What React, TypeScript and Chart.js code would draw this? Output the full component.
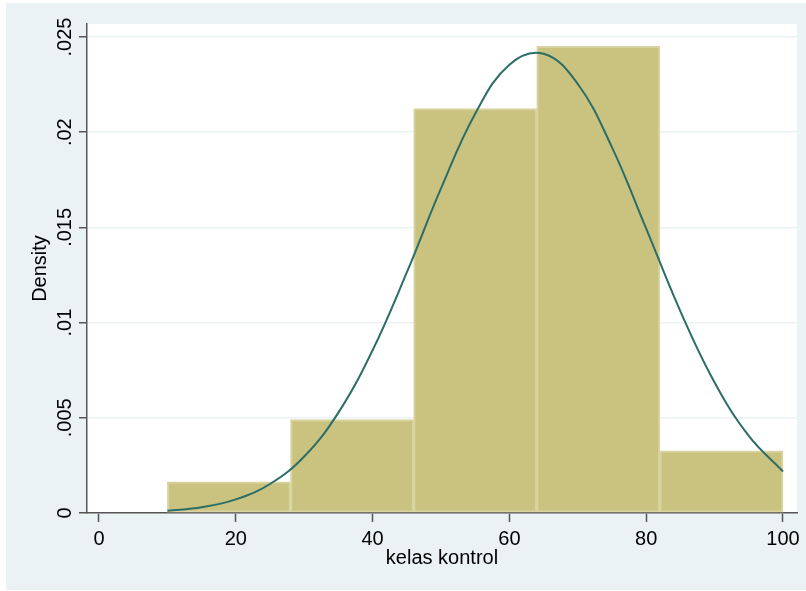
import React, { useEffect, useRef } from "react";
import { Chart, registerables } from "chart.js";

Chart.register(...registerables);

// Histogram bins (kelas kontrol), width 18
const binCenters = [19, 37, 55, 73, 91];
const densities = [0.001634, 0.0049, 0.02124, 0.02451, 0.00327];

// Normal density curve
const curveX = [10, 15, 20, 25, 30, 35, 40, 45, 50, 55, 60, 65, 70, 75, 80, 85, 90, 95, 100];
const curveY = [
  0.000119, 0.000305, 0.000713, 0.001523, 0.002967, 0.005274, 0.008548, 0.012637,
  0.017045, 0.020974, 0.023547, 0.024116, 0.022531, 0.019204, 0.014934, 0.010594,
  0.006855, 0.004045, 0.002179,
];

const xTicks = [0, 20, 40, 60, 80, 100];
const xTickLabels = ["0", "20", "40", "60", "80", "100"];
const yTicks = [0, 0.005, 0.01, 0.015, 0.02, 0.025];
const yTickLabels = ["0", ".005", ".01", ".015", ".02", ".025"];

const xTitle = "kelas kontrol";
const yTitle = "Density";

const FONT = '20px "Liberation Sans", Arial, sans-serif';

export default function App() {
  const ref = useRef<HTMLCanvasElement | null>(null);

  useEffect(() => {
    document.body.style.margin = "0";
    const canvas = ref.current;
    if (!canvas) return;

    const bgPlugin = {
      id: "stataBg",
      beforeDraw(chart: any) {
        const { ctx, chartArea } = chart;
        ctx.save();
        ctx.fillStyle = "#ffffff";
        ctx.fillRect(0, 0, chart.width, chart.height);
        ctx.fillStyle = "#eaf2f3";
        ctx.fillRect(6, 3, chart.width - 6, 587);
        ctx.fillStyle = "#ffffff";
        ctx.fillRect(
          chartArea.left,
          chartArea.top,
          chartArea.right - chartArea.left,
          chartArea.bottom - chartArea.top
        );
        ctx.restore();
      },
      afterDraw(chart: any) {
        const { ctx, scales } = chart;
        const xs = scales.x;
        const ys = scales.y;
        ctx.save();
        ctx.fillStyle = "#000000";
        ctx.font = FONT;
        ctx.textBaseline = "alphabetic";
        ctx.textAlign = "center";
        yTicks.forEach((v, i) => {
          const py = ys.getPixelForValue(v);
          ctx.save();
          ctx.translate(70.5, py);
          ctx.rotate(-Math.PI / 2);
          ctx.fillText(yTickLabels[i], 0, 0);
          ctx.restore();
        });
        xTicks.forEach((v, i) => {
          const px = xs.getPixelForValue(v);
          ctx.fillText(xTickLabels[i], px, 545);
        });
        ctx.fillText(xTitle, (chart.chartArea.left + chart.chartArea.right) / 2, 564);
        ctx.save();
        ctx.translate(46, (chart.chartArea.top + chart.chartArea.bottom) / 2);
        ctx.rotate(-Math.PI / 2);
        ctx.fillText(yTitle, 0, 0);
        ctx.restore();
        ctx.restore();
      },
    };

    const chart = new Chart(canvas, {
      type: "bar",
      data: {
        datasets: [
          {
            type: "line",
            data: curveX.map((x, i) => ({ x, y: curveY[i] })),
            borderColor: "#2b6e67",
            borderWidth: 2,
            pointRadius: 0,
            tension: 0.4,
            fill: false,
            order: 0,
          } as any,
          {
            type: "bar",
            data: binCenters.map((x, i) => ({ x, y: densities[i] })),
            backgroundColor: "#cac380",
            borderColor: "#d8d3a0",
            borderWidth: 2,
            borderSkipped: false,
            barPercentage: 1,
            categoryPercentage: 1,
            grouped: false,
            order: 1,
          } as any,
        ],
      },
      options: {
        responsive: false,
        animation: false,
        devicePixelRatio: 1,
        layout: { padding: { top: 24, right: 9, left: 0, bottom: 0 } },
        plugins: {
          legend: { display: false },
          tooltip: { enabled: false },
        },
        scales: {
          x: {
            type: "linear",
            offset: false,
            min: -1.754,
            max: 102.047,
            afterBuildTicks: (s: any) => {
              s.ticks = xTicks.map((v) => ({ value: v }));
            },
            afterFit: (s: any) => {
              s.height = 78;
            },
            ticks: { display: false },
            grid: {
              display: true,
              offset: false,
              drawOnChartArea: false,
              drawTicks: true,
              tickLength: 9,
              tickColor: "#555555",
              tickWidth: 1.5,
            },
            border: { display: true, color: "#555555", width: 1.5 },
          },
          y: {
            type: "linear",
            min: 0,
            max: 0.025683,
            afterBuildTicks: (s: any) => {
              s.ticks = yTicks.map((v) => ({ value: v }));
            },
            afterFit: (s: any) => {
              s.width = 87;
            },
            ticks: { display: false },
            grid: {
              display: true,
              drawOnChartArea: true,
              drawTicks: true,
              tickLength: 8,
              color: "#eaf2f3",
              lineWidth: 1.5,
              tickColor: "#555555",
              tickWidth: 1.5,
            },
            border: { display: true, color: "#555555", width: 1.5 },
          },
        },
      } as any,
      plugins: [bgPlugin],
    });

    return () => chart.destroy();
  }, []);

  return (
    <div style={{ width: 806, height: 591 }}>
      <canvas ref={ref} width={806} height={591} style={{ display: "block" }} />
    </div>
  );
}
